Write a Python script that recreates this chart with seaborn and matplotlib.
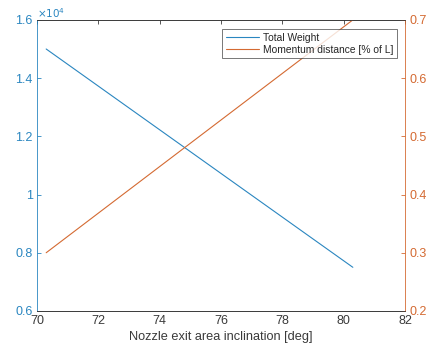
import matplotlib
matplotlib.use("Agg")
import matplotlib.pyplot as plt
import matplotlib.ticker as mticker
import seaborn as sns
import pandas as pd

# Sweep of nozzle exit area inclination
angle_deg = [70.3, 72.3, 74.3, 76.3, 78.3, 80.3]
total_weight = [15000, 13500, 12000, 10500, 9000, 7500]
momentum_dist = [0.30, 0.38, 0.46, 0.54, 0.62, 0.70]

x_ticks = [70, 72, 74, 76, 78, 80, 82]
left_ticks = [6000, 8000, 10000, 12000, 14000, 16000]
right_ticks = [0.2, 0.3, 0.4, 0.5, 0.6, 0.7]

df = pd.DataFrame({"angle": angle_deg, "weight": total_weight, "moment": momentum_dist})

sns.set_style("white")
plt.rcParams["font.family"] = ["Liberation Sans", "DejaVu Sans"]

BLUE = "#2a86c0"
ORANGE = "#d46a32"
DARK = "#3a3a3a"

fig = plt.figure(figsize=(4.31, 3.49), dpi=100, facecolor="white")
ax = fig.add_axes([0.0858, 0.109, 0.8538, 0.834])
ax2 = ax.twinx()

sns.lineplot(data=df, x="angle", y="weight", ax=ax, color=BLUE, lw=0.8,
             label="Total Weight", legend=False)
sns.lineplot(data=df, x="angle", y="moment", ax=ax2, color=ORANGE, lw=0.8,
             label="Momentum distance [% of L]", legend=False)

ax.set_xlim(70, 82)
ax.set_ylim(6000, 16000)
ax2.set_ylim(0.2, 0.7)
ax.set_xticks(x_ticks)
ax.set_yticks(left_ticks)
ax2.set_yticks(right_ticks)
ax.yaxis.set_major_formatter(mticker.FuncFormatter(lambda v, p: f"{v/1e4:g}"))
ax2.yaxis.set_major_formatter(mticker.FuncFormatter(lambda v, p: f"{v:g}"))

ax.set_xlabel("Nozzle exit area inclination [deg]", fontsize=9.2, color=DARK, labelpad=3)
ax.set_ylabel("")
ax2.set_ylabel("")

for a in (ax, ax2):
    for s in a.spines.values():
        s.set_linewidth(0.6)
        s.set_color(DARK)
ax.spines["left"].set_color(BLUE)
ax2.spines["left"].set_visible(False)
ax2.spines["right"].set_color(ORANGE)
ax.spines["right"].set_visible(False)

ax.tick_params(axis="x", direction="in", length=3, width=0.6, colors=DARK,
               labelsize=9, top=True, pad=3)
ax.tick_params(axis="y", direction="in", length=3, width=0.6, colors=BLUE,
               labelsize=9, pad=3)
ax2.tick_params(axis="y", direction="in", length=3, width=0.6, colors=ORANGE,
                labelsize=9, pad=3)

ax.text(0.0, 1.0, r"$\times10^4$", transform=ax.transAxes, fontsize=7.5,
        color=BLUE, ha="left", va="bottom")

h1, l1 = ax.get_legend_handles_labels()
h2, l2 = ax2.get_legend_handles_labels()
leg = ax2.legend(h1 + h2, l1 + l2, loc="upper right", bbox_to_anchor=(0.978, 0.969),
                 borderaxespad=0, fontsize=7.4, frameon=True, fancybox=False,
                 handlelength=3.2, handletextpad=0.4, borderpad=0.35,
                 labelspacing=0.2)
leg.get_frame().set_edgecolor(DARK)
leg.get_frame().set_linewidth(0.6)

fig.savefig("out.png", dpi=100, facecolor="white")
